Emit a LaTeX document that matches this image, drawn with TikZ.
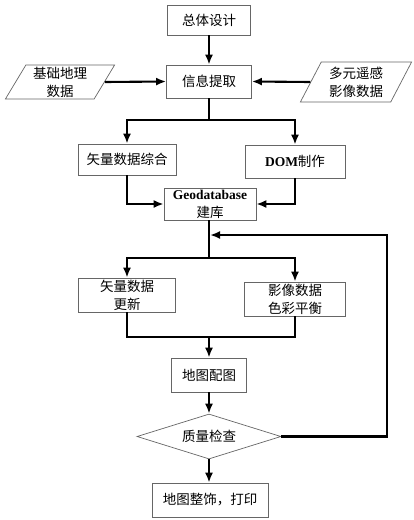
\documentclass[tikz,border=0pt]{standalone}
\usepackage{fontspec}
\setmainfont{Liberation Serif}
\newfontfamily\cjk{Noto Sans CJK SC}
\usetikzlibrary{arrows.meta,shapes.geometric}
\newcommand{\lat}{\rmfamily\bfseries}
\begin{document}
\begin{tikzpicture}[x=1pt,y=-1pt,>={Latex[length=10pt,width=8pt]},
    box/.style={draw=black!60,line width=.7pt,fill=white,inner sep=0pt,
        align=center,font=\cjk\fontsize{13.5pt}{18pt}\selectfont},
    data/.style={box,trapezium,trapezium left angle=62,
        trapezium right angle=118,trapezium stretches=true},
    check/.style={box,diamond,aspect=3.2},
    link/.style={line width=2.1pt}]

    \useasboundingbox (0,0) rectangle (414,520);

    % the boxes

    \node[box,minimum width=83pt,minimum height=30pt] (des) at (209,20) {总体设计};
    \node[box,minimum width=85pt,minimum height=33pt] (ext) at (209,81.5) {信息提取};
    \node[data,minimum width=110pt,minimum height=34pt] (base) at (60,82) {基础地理\\数据};
    \node[data,minimum width=112pt,minimum height=40pt] (rs) at (356,82) {多元遥感\\影像数据};
    \node[box,minimum width=98pt,minimum height=31pt] (vec) at (127,159.5) {矢量数据综合};
    \node[box,minimum width=100pt,minimum height=33pt] (dom) at (295,161.5) {{\lat DOM}制作};
    \node[box,minimum width=92pt,minimum height=32pt] (gdb) at (210,204) {{\lat Geodatabase}\\建库};
    \node[box,minimum width=97pt,minimum height=34pt] (upd) at (127,295) {矢量数据\\更新};
    \node[box,minimum width=101pt,minimum height=34pt] (bal) at (295,299) {影像数据\\色彩平衡};
    \node[box,minimum width=75pt,minimum height=34pt] (map) at (209,375) {地图配图};
    \node[check,minimum width=144pt,minimum height=45pt] (chk) at (209,436.5) {质量检查};
    \node[box,minimum width=116pt,minimum height=34pt] (fin) at (210,500) {地图整饰，打印};

    \coordinate (s1) at (209,120);
    \coordinate (s2) at (209,258);
    \coordinate (s3) at (209,337);
    \coordinate (fb) at (387,235);
    \coordinate (back) at (210,235);

    % the links

    \draw[->,link] (des) -- (ext);
    \draw[->,link] (base.east) -- (ext.west);
    \draw[->,link] (rs.west) -- (ext.east);

    \draw[link] (ext.south) -- (s1);
    \draw[->,link] (s1) -| (vec.north);
    \draw[->,link] (s1) -| (dom.north);

    \draw[->,link] (vec.south) |- (gdb.west);
    \draw[->,link] (dom.south) |- (gdb.east);

    \draw[link] (gdb.south -| s2) -- (s2);
    \draw[->,link] (s2) -| (upd.north);
    \draw[->,link] (s2) -| (bal.north);

    \draw[link] (upd.south) |- (s3) -| (bal.south);
    \draw[->,link] (s3) -- (map.north);

    \draw[->,link] (map) -- (chk);
    \draw[->,link] (chk.south) -- (chk.south |- fin.north);
    \draw[->,link] (chk.east) -| (fb) -- (back);
\end{tikzpicture}
\end{document}
